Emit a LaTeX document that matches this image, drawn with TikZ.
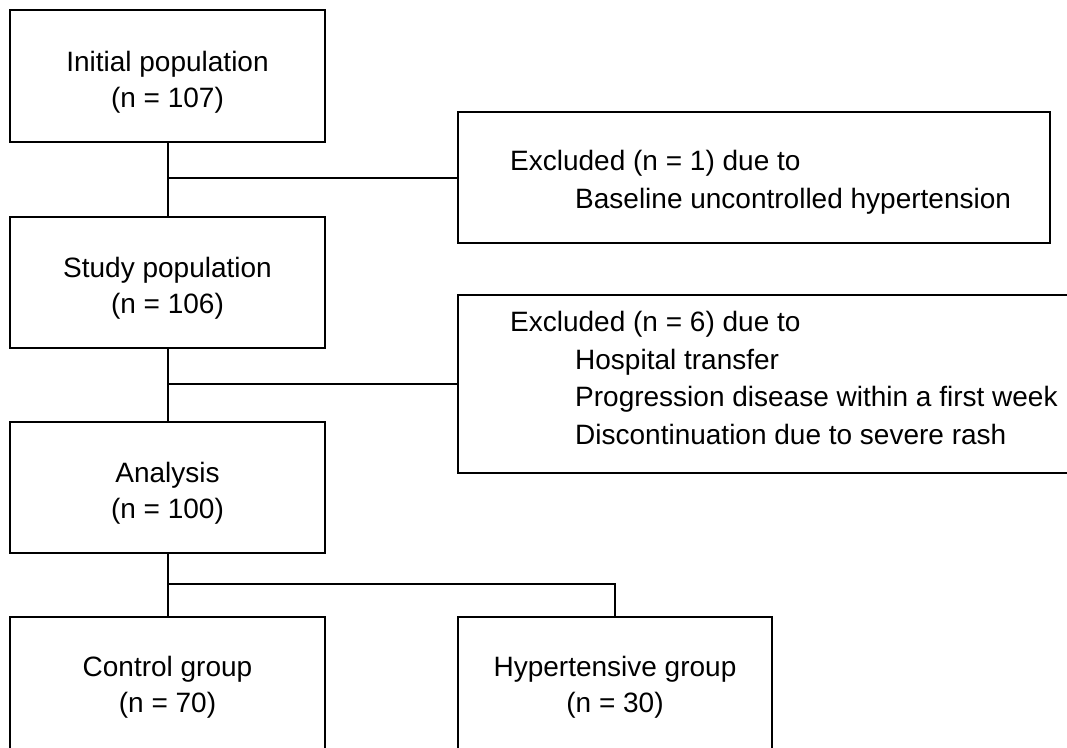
\documentclass[tikz,border=0pt]{standalone}
\usepackage{fontspec}
\setmainfont{Liberation Sans}
\begin{document}
\begin{tikzpicture}[x=1pt,y=-1pt,
  box/.style={draw, line width=2pt, inner sep=0pt, rectangle},
  txt/.style={inner sep=0pt, font=\fontsize{28}{36.5}\selectfont},
  conn/.style={line width=2pt}]
\useasboundingbox (0,0) rectangle (1067,747);
% boxes
\node[box, minimum width=315pt, minimum height=131.5pt] (init) at (167.5,75.75) {};
\node[box, minimum width=315pt, minimum height=131pt] (study) at (167.5,282.5) {};
\node[box, minimum width=315pt, minimum height=131pt] (analysis) at (167.5,487.5) {};
\node[box, minimum width=315pt, minimum height=150pt] (control) at (167.5,692) {};
\node[box, minimum width=314pt, minimum height=150pt] (hyper) at (615,692) {};
\node[box, minimum width=592pt, minimum height=131pt] (excl1) at (754,177.5) {};
\node[box, minimum width=632pt, minimum height=178pt] (excl2) at (774,384) {};
% texts
\node[txt, anchor=base] (initA) at (167.5,71) {Initial population};
\node[txt, anchor=base] (initB) at (167.5,107.5) {(n = 107)};
\node[txt, anchor=base] (studyA) at (167.5,277) {Study population};
\node[txt, anchor=base] (studyB) at (167.5,313.5) {(n = 106)};
\node[txt, anchor=base] (anaA) at (167.5,482) {Analysis};
\node[txt, anchor=base] (anaB) at (167.5,518.5) {(n = 100)};
\node[txt, anchor=base] (ctrlA) at (167.5,676) {Control group};
\node[txt, anchor=base] (ctrlB) at (167.5,712.5) {(n = 70)};
\node[txt, anchor=base] (hypA) at (615,676) {Hypertensive group};
\node[txt, anchor=base] (hypB) at (615,712.5) {(n = 30)};
\node[txt, anchor=base west] (exAa) at (510,170) {Excluded (n = 1) due to};
\node[txt, anchor=base west] (exAb) at (575,208) {Baseline uncontrolled hypertension};
\node[txt, anchor=base west] (exBa) at (510,331) {Excluded (n = 6) due to};
\node[txt, anchor=base west] (exBb) at (575,369) {Hospital transfer};
\node[txt, anchor=base west] (exBc) at (575,406.5) {Progression disease within a first week};
\node[txt, anchor=base west] (exBd) at (575,444) {Discontinuation due to severe rash};
% connectors
\draw[conn] (init.south) -- (study.north);
\draw[conn] (excl1.west) -- (excl1.west -| init.south);
\draw[conn] (study.south) -- (analysis.north);
\draw[conn] (excl2.west) -- (excl2.west -| study.south);
\draw[conn] (analysis.south) -- (control.north);
\coordinate (split) at (167.5,584);
\draw[conn] (split) -| (hyper.north);
\end{tikzpicture}
\end{document}
